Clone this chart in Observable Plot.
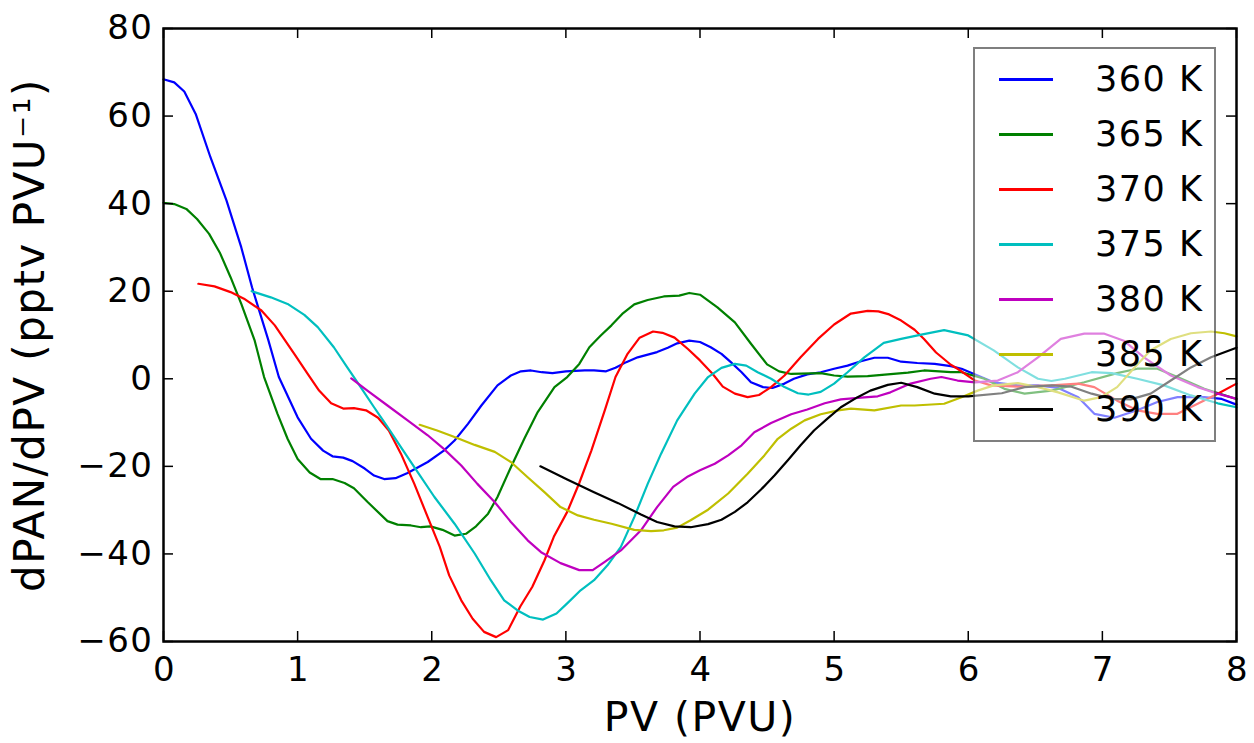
<!DOCTYPE html>
<html>
<head>
<meta charset="utf-8">
<script src="https://cdn.jsdelivr.net/npm/d3@7"></script>
<script src="https://cdn.jsdelivr.net/npm/@observablehq/plot@0.6"></script>
<style>
  html, body { margin: 0; padding: 0; background: white; }
  #wrap { position: relative; width: 1254px; height: 743px; font-family: "DejaVu Sans", sans-serif; }
  #wrap svg { position: absolute; left: 0; top: 0; }
  #wrap svg text { letter-spacing: 1.5px; }
  #legend { position: absolute; left: 973px; top: 47px; width: 243px; height: 395px; box-sizing: border-box;
            border: 2.5px solid rgba(0,0,0,0.5); background: rgba(255,255,255,0.5); }
  .row { position: absolute; left: 0; height: 40px; width: 100%; }
  .swatch { position: absolute; left: 24px; top: 19px; width: 54px; height: 2.5px; }
  .lab { position: absolute; left: 120px; top: 0; font-size: 35px; line-height: 40px; color: black; white-space: pre; letter-spacing: 1.5px; }
</style>
</head>
<body>
<div id="wrap"></div>
<script>
// ---- data ----
const seriesNames = ["360 K", "365 K", "370 K", "375 K", "380 K", "385 K", "390 K"];
const seriesColors = ["#0000ff", "#008000", "#ff0000", "#00bfbf", "#bf00bf", "#bfbf00", "#000000"];
const xTicks = [0, 1, 2, 3, 4, 5, 6, 7, 8];
const yTicks = [-60, -40, -20, 0, 20, 40, 60, 80];

const pv360 = [0.0,0.08,0.155,0.24,0.35,0.47,0.58,0.66,0.78,0.86,1.0,1.10,1.19,1.26,1.34,1.41,1.50,1.57,1.645,1.73,1.82,1.97,2.09,2.17,2.27,2.37,2.49,2.59,2.665,2.74,2.82,2.90,3.0,3.14,3.21,3.30,3.37,3.45,3.535,3.68,3.76,3.83,3.92,4.0,4.08,4.16,4.23,4.31,4.38,4.47,4.54,4.63,4.70,4.80,4.90,5.0,5.10,5.20,5.30,5.40,5.50,5.62,5.75,5.87,5.95,6.07,6.19,6.37,6.52,6.67,6.82,6.94,7.09,7.26,7.41,7.56,7.76,7.89,8.0];
const val360 = [68.4,67.7,65.6,60.5,50.6,40.7,30.0,20.9,9.0,0.4,-8.8,-13.7,-16.4,-17.7,-18.0,-18.8,-20.5,-22.1,-22.9,-22.7,-21.5,-19.0,-16.4,-14.1,-10.3,-6.1,-1.5,0.75,1.7,1.9,1.5,1.3,1.7,1.9,1.9,1.7,2.5,3.8,4.9,6.1,7.1,8.1,8.7,8.4,7.2,5.7,3.8,1.5,-0.8,-1.9,-2.1,-1.1,0,1.0,1.5,2.3,3.0,4.0,4.8,4.8,3.9,3.6,3.4,2.9,2.3,0.75,-0.8,-1.5,-1.5,-2.1,-4.2,-8.0,-8.9,-7.2,-5.3,-4.2,-4.2,-4.6,-5.9];

const pv365 = [0.0,0.08,0.17,0.25,0.34,0.42,0.50,0.58,0.68,0.75,0.85,0.925,1.0,1.09,1.17,1.26,1.35,1.42,1.52,1.67,1.745,1.845,1.92,1.99,2.08,2.17,2.255,2.33,2.42,2.49,2.59,2.69,2.79,2.915,3.01,3.10,3.175,3.26,3.34,3.42,3.51,3.61,3.73,3.845,3.92,4.0,4.13,4.26,4.38,4.50,4.59,4.68,4.90,5.0,5.10,5.25,5.40,5.55,5.67,5.87,5.95,6.12,6.27,6.42,6.62,6.865,7.11,7.26,7.41,7.56,7.76,8.0];
const val365 = [40.2,39.9,38.8,36.5,33.1,28.8,23.2,17.1,8.7,0.4,-8.0,-13.7,-18.3,-21.4,-22.9,-22.9,-23.8,-25.0,-28.1,-32.5,-33.3,-33.5,-33.9,-33.7,-34.5,-35.8,-35.4,-33.7,-30.8,-27.0,-20.2,-13.7,-7.6,-1.9,0.4,3.4,7.2,9.9,12.2,14.8,17.0,18.0,18.8,19.0,19.6,19.2,16.3,12.9,8.0,3.3,1.7,1.1,1.3,0.75,0.5,0.6,1.0,1.4,1.9,1.5,1.5,0,-2.3,-3.4,-2.7,-0.8,1.3,2.3,2.3,0.4,-2.3,-4.6];

const pv370 = [0.26,0.38,0.50,0.60,0.73,0.83,0.975,1.075,1.16,1.25,1.34,1.42,1.51,1.60,1.68,1.77,1.87,1.97,2.06,2.13,2.22,2.305,2.39,2.48,2.57,2.66,2.75,2.84,2.91,3.01,3.10,3.19,3.29,3.37,3.46,3.55,3.65,3.72,3.81,3.91,4.0,4.095,4.17,4.26,4.355,4.44,4.53,4.63,4.75,4.88,5.0,5.125,5.25,5.33,5.41,5.50,5.60,5.67,5.76,5.87,5.92,6.05,6.17,6.37,6.62,6.82,6.94,7.11,7.26,7.41,7.56,7.71,7.86,8.0];
const val370 = [21.7,21.1,19.8,18.3,15.6,12.2,5.7,1.1,-2.7,-5.6,-6.8,-6.7,-7.2,-8.9,-11.8,-17.1,-24.0,-31.6,-38.4,-44.9,-50.6,-54.8,-57.8,-59.0,-57.4,-52.0,-47.5,-41.5,-36.1,-30.4,-23.8,-16.4,-7.2,0.4,5.7,9.4,10.8,10.5,9.4,6.8,4.2,1.1,-1.8,-3.4,-4.2,-3.7,-1.9,0.75,4.9,9.1,12.4,14.9,15.5,15.4,14.7,13.3,11.2,9.1,6.0,3.2,2.3,-0.4,-1.5,-1.8,-1.5,-1.1,-1.9,-5.0,-7.2,-8.0,-8.0,-5.7,-3.4,-1.1];

const pv375 = [0.657,0.80,0.925,1.05,1.15,1.27,1.37,1.47,1.57,1.67,1.77,1.87,2.02,2.17,2.32,2.44,2.54,2.64,2.73,2.83,2.93,3.01,3.11,3.21,3.31,3.41,3.51,3.61,3.71,3.83,3.96,4.06,4.16,4.26,4.345,4.43,4.53,4.63,4.73,4.81,4.90,5.0,5.10,5.225,5.37,5.50,5.65,5.82,6.0,6.19,6.37,6.52,6.62,6.72,6.92,7.07,7.26,7.46,7.66,7.86,8.0];
const val375 = [20.0,18.6,17.1,14.6,11.8,7.2,2.6,-1.9,-6.5,-11.0,-15.6,-20.2,-27.0,-33.1,-39.9,-46.0,-50.6,-52.9,-54.4,-55.0,-53.6,-51.3,-48.3,-46.0,-42.6,-38.4,-31.6,-24.0,-17.1,-9.5,-3.4,0.4,2.5,3.4,3.0,1.5,0,-1.9,-3.3,-3.6,-3.0,-1.1,1.5,4.9,8.2,9.1,10.1,11.1,9.9,6.5,2.6,0,-0.5,0,1.5,1.3,0,-1.5,-3.8,-5.6,-6.5];

const pv380 = [1.40,1.52,1.67,1.82,1.97,2.09,2.22,2.34,2.47,2.59,2.715,2.815,2.96,3.10,3.20,3.29,3.41,3.56,3.68,3.80,3.91,4.0,4.11,4.21,4.31,4.405,4.53,4.68,4.80,4.93,5.05,5.20,5.325,5.42,5.57,5.72,5.80,5.92,6.05,6.22,6.37,6.52,6.69,6.865,7.015,7.16,7.31,7.51,7.71,7.86,8.0];
const val380 = [0.1,-2.7,-6.1,-9.5,-12.9,-16.0,-19.8,-24.0,-28.2,-32.7,-36.9,-39.6,-42.1,-43.7,-43.7,-41.8,-39.2,-34.6,-29.3,-24.7,-22.3,-20.9,-19.4,-17.5,-15.2,-12.2,-10.1,-8.1,-7.0,-5.6,-4.7,-4.3,-4.0,-3.1,-1.1,0,0.4,-0.4,-0.8,-0.4,1.5,4.9,9.1,10.3,10.3,8.7,4.9,0.75,-1.9,-3.4,-4.6];

const pv385 = [1.91,2.04,2.17,2.32,2.47,2.59,2.715,2.84,2.96,3.09,3.21,3.34,3.51,3.635,3.73,3.83,3.93,4.06,4.21,4.355,4.48,4.58,4.68,4.78,4.90,5.03,5.125,5.30,5.50,5.60,5.82,5.95,6.07,6.19,6.37,6.52,6.67,6.865,6.99,7.11,7.24,7.36,7.51,7.66,7.81,7.91,8.0];
const val385 = [-10.5,-11.8,-13.3,-15.1,-16.7,-19.0,-22.5,-25.9,-29.3,-31.2,-32.2,-33.1,-34.5,-34.8,-34.6,-34.0,-32.3,-29.9,-26.2,-21.7,-17.5,-13.7,-11.4,-9.5,-8.1,-7.2,-6.8,-7.2,-6.1,-6.1,-5.7,-4.2,-2.7,-1.5,-1.0,-1.9,-3.1,-5.0,-4.2,-1.9,2.6,6.5,9.1,10.4,10.8,10.4,9.7];

const pv390 = [2.81,3.01,3.21,3.39,3.56,3.68,3.81,3.93,4.06,4.16,4.26,4.355,4.455,4.555,4.655,4.75,4.85,4.95,5.05,5.175,5.27,5.40,5.50,5.62,5.75,5.87,6.0,6.25,6.42,6.62,6.77,6.92,7.07,7.21,7.36,7.51,7.66,7.81,8.0];
const val390 = [-20.0,-23.0,-25.9,-28.4,-31.0,-32.7,-33.7,-33.9,-33.2,-32.2,-30.4,-28.2,-25.3,-22.1,-18.6,-15.2,-11.8,-9.1,-6.5,-4.2,-2.7,-1.4,-0.9,-1.9,-3.4,-4.0,-4.0,-3.3,-1.9,-1.5,-1.8,-3.4,-4.6,-4.7,-3.4,-0.4,2.6,4.9,7.1];

const xLabel = "PV (PVU)";
const yLabel = "dPAN/dPV (pptv PVU\u207B\u00B9)";

// ---- build ----
const pvArrays = [pv360, pv365, pv370, pv375, pv380, pv385, pv390];
const valArrays = [val360, val365, val370, val375, val380, val385, val390];
const series = seriesNames.map((name, i) => pvArrays[i].map((pv, j) => ({pv, v: valArrays[i][j], name})));

const W = 1254, H = 743, mL = 163, mR = 18, mT = 28, mB = 102;
const frameW = W - mL - mR, frameH = H - mT - mB;
const tickLen = 10;
const fmt = d => d < 0 ? "\u2212" + (-d) : String(d);

const chart = Plot.plot({
  width: W, height: H,
  marginLeft: mL, marginRight: mR, marginTop: mT, marginBottom: mB,
  style: {fontFamily: "DejaVu Sans", fontSize: "34px", color: "black", background: "white", overflow: "visible"},
  x: {domain: [0, 8]},
  y: {domain: [-60, 80]},
  marks: [
    ...series.map((s, i) => Plot.line(s, {x: "pv", y: "v", stroke: seriesColors[i], strokeWidth: 2.2})),
    Plot.tickX(xTicks, {x: d => d, insetTop: frameH - tickLen, stroke: "black", strokeWidth: 1.5}),
    Plot.tickX(xTicks, {x: d => d, insetBottom: frameH - tickLen, stroke: "black", strokeWidth: 1.5}),
    Plot.tickY(yTicks, {y: d => d, insetRight: frameW - tickLen, stroke: "black", strokeWidth: 1.5}),
    Plot.tickY(yTicks, {y: d => d, insetLeft: frameW - tickLen, stroke: "black", strokeWidth: 1.5}),
    Plot.frame({stroke: "black", strokeWidth: 2.5}),
    Plot.axisX(xTicks, {tickSize: 0, tickPadding: 15, label: null, tickFormat: fmt, fontSize: 34, dx: 1}),
    Plot.axisY(yTicks, {tickSize: 0, tickPadding: 10, label: null, tickFormat: fmt, fontSize: 34}),
    Plot.text([xLabel], {text: d => d, frameAnchor: "bottom", dy: 76, fontSize: 41, textAnchor: "middle", lineAnchor: "middle", fill: "black"}),
    Plot.text([yLabel], {text: d => d, frameAnchor: "left", dx: -133, rotate: -90, fontSize: 42, textAnchor: "middle", lineAnchor: "middle", fill: "black"})
  ]
});

const wrap = document.getElementById("wrap");
wrap.appendChild(chart);

// legend
const legend = document.createElement("div");
legend.id = "legend";
seriesNames.forEach((name, i) => {
  const row = document.createElement("div");
  row.className = "row";
  row.style.top = (10 + 55 * i) + "px";
  const sw = document.createElement("div");
  sw.className = "swatch";
  sw.style.background = seriesColors[i];
  const lab = document.createElement("div");
  lab.className = "lab";
  lab.textContent = name;
  row.appendChild(sw);
  row.appendChild(lab);
  legend.appendChild(row);
});
wrap.appendChild(legend);
</script>
</body>
</html>
